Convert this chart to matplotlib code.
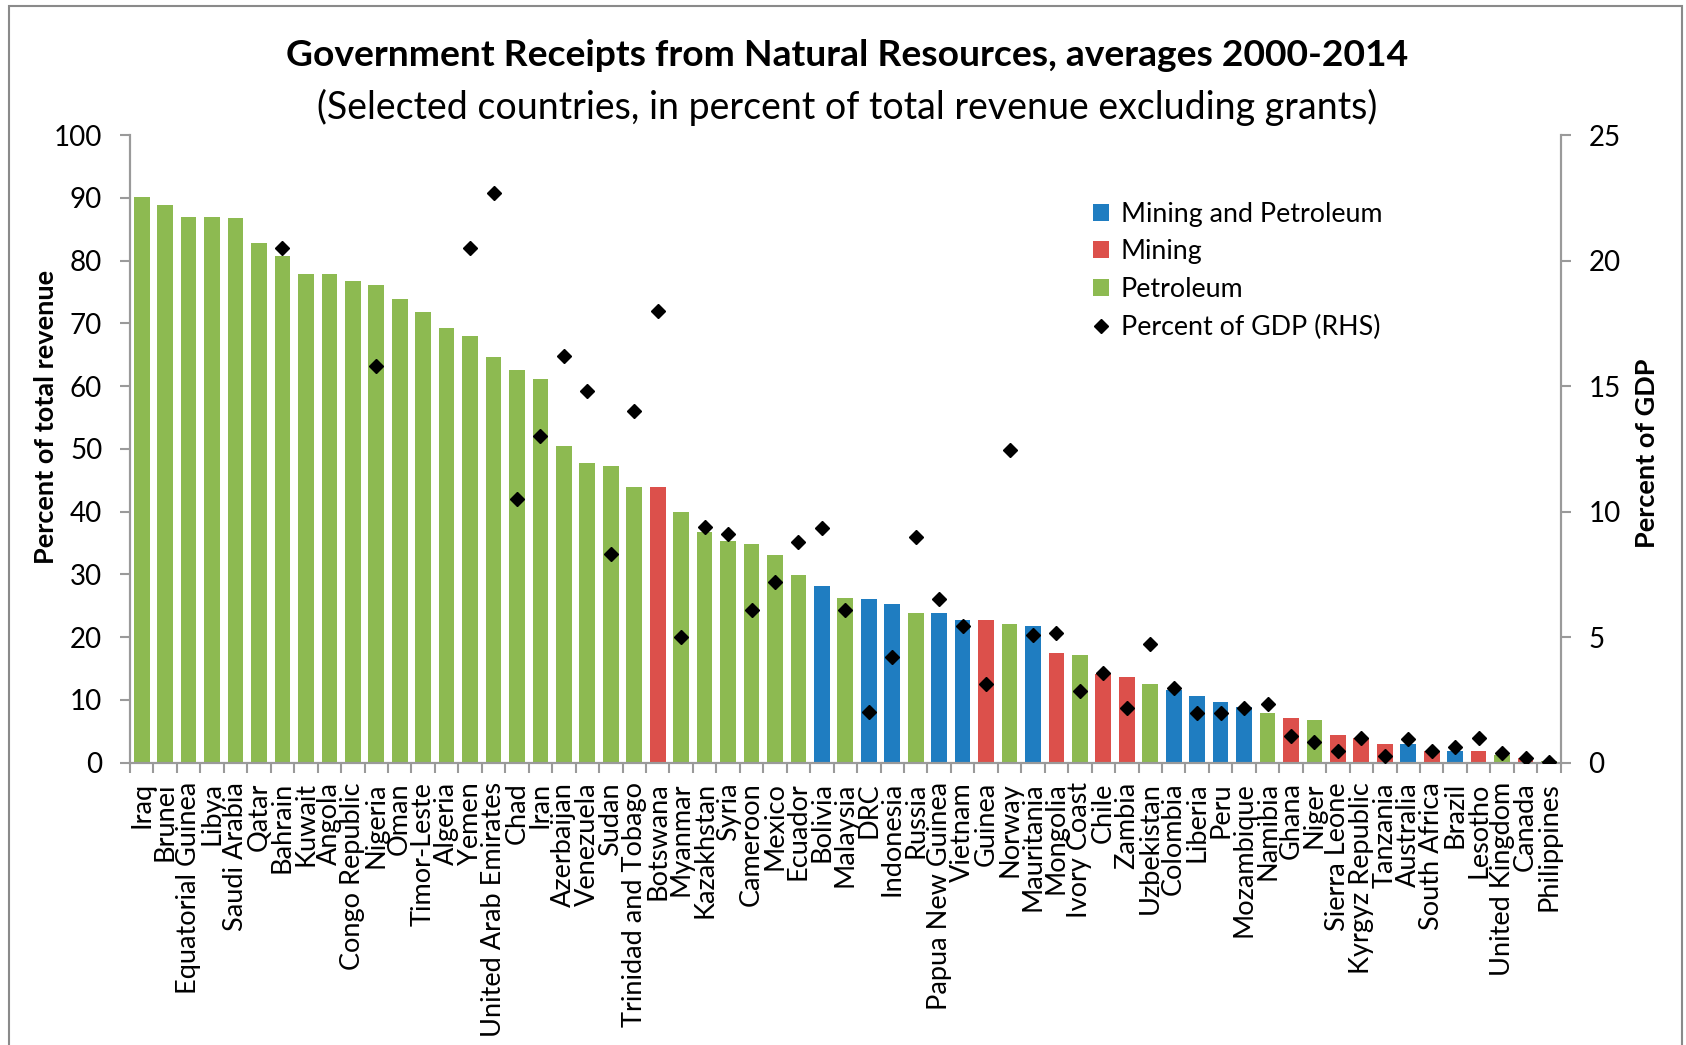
import numpy as np
import matplotlib
matplotlib.use("Agg")
import matplotlib.pyplot as plt
from matplotlib.lines import Line2D
from matplotlib.patches import Patch, Rectangle

plt.rcParams["font.family"] = ["Lato", "DejaVu Sans"]

countries = [
    "Iraq", "Brunei", "Equatorial Guinea", "Libya", "Saudi Arabia", "Qatar",
    "Bahrain", "Kuwait", "Angola", "Congo Republic", "Nigeria", "Oman",
    "Timor-Leste", "Algeria", "Yemen", "United Arab Emirates", "Chad", "Iran",
    "Azerbaijan", "Venezuela", "Sudan", "Trinidad and Tobago", "Botswana",
    "Myanmar", "Kazakhstan", "Syria", "Cameroon", "Mexico", "Ecuador",
    "Bolivia", "Malaysia", "DRC", "Indonesia", "Russia", "Papua New Guinea",
    "Vietnam", "Guinea", "Norway", "Mauritania", "Mongolia", "Ivory Coast",
    "Chile", "Zambia", "Uzbekistan", "Colombia", "Liberia", "Peru",
    "Mozambique", "Namibia", "Ghana", "Niger", "Sierra Leone",
    "Kyrgyz Republic", "Tanzania", "Australia", "South Africa", "Brazil",
    "Lesotho", "United Kingdom", "Canada", "Philippines",
]

# percent of total revenue excluding grants (LHS)
revenue_share = [
    90.2, 88.8, 87.0, 87.0, 86.7, 82.8,
    80.7, 77.8, 77.8, 76.7, 76.1, 73.9,
    71.8, 69.3, 67.9, 64.6, 62.6, 61.1,
    50.5, 47.7, 47.3, 44.0, 44.0,
    39.9, 36.7, 35.3, 34.8, 33.1, 29.9,
    28.1, 26.3, 26.0, 25.3, 23.9, 23.9,
    22.8, 22.8, 22.1, 21.8, 17.5, 17.1,
    14.2, 13.6, 12.5, 11.6, 10.7, 9.7,
    8.9, 7.9, 7.2, 6.8, 4.4,
    3.9, 2.9, 2.9, 1.8, 1.8,
    1.8, 1.3, 0.75, 0.2,
]

# resource type: P = petroleum, M = mining, MP = mining and petroleum
resource_type = [
    "P", "P", "P", "P", "P", "P",
    "P", "P", "P", "P", "P", "P",
    "P", "P", "P", "P", "P", "P",
    "P", "P", "P", "P", "M",
    "P", "P", "P", "P", "P", "P",
    "MP", "P", "MP", "MP", "P", "MP",
    "MP", "M", "P", "MP", "M", "P",
    "M", "M", "P", "MP", "MP", "MP",
    "MP", "P", "M", "P", "M",
    "M", "M", "MP", "M", "MP",
    "M", "P", "M", "P",
]

# percent of GDP (RHS), nan where no marker
gdp_share = [
    np.nan, np.nan, np.nan, np.nan, np.nan, np.nan,
    20.5, np.nan, np.nan, np.nan, 15.8, np.nan,
    np.nan, np.nan, 20.5, 22.7, 10.5, 13.0,
    16.2, 14.8, 8.3, 14.0, 18.0,
    5.0, 9.4, 9.1, 6.1, 7.2, 8.8,
    9.35, 6.1, 2.0, 4.2, 9.0, 6.5,
    5.45, 3.13, 12.45, 5.07, 5.18, 2.87,
    3.58, 2.17, 4.73, 2.96, 1.97, 1.97,
    2.17, 2.35, 1.08, 0.83, 0.45,
    1.0, 0.27, 0.93, 0.47, 0.64,
    1.0, 0.4, 0.18, 0.02,
]

colors = {"MP": "#1f7dc1", "M": "#dc504b", "P": "#8dba51"}
legend_names = {"MP": "Mining and Petroleum", "M": "Mining", "P": "Petroleum"}

W, H = 1686, 1045
fig = plt.figure(figsize=(W / 100, H / 100), dpi=100)
ax_left, ax_right, ax_top, ax_bottom = 130, 1560.7, 135, 762.7
ax = fig.add_axes([ax_left / W, 1 - ax_bottom / H,
                   (ax_right - ax_left) / W, (ax_bottom - ax_top) / H])

x = np.arange(len(countries))
ax.bar(x, revenue_share, width=0.67,
       color=[colors[t] for t in resource_type], zorder=2)

ax2 = ax.twinx()
ax2.plot(x, gdp_share, linestyle="none", marker="D", markersize=7.5,
         color="black", zorder=3)

axis_grey = "#9a9a9a"
ax.set_xlim(-0.5, len(countries) - 0.5)
ax.set_ylim(0, 100)
ax2.set_ylim(0, 25)
ax.set_yticks(np.arange(0, 101, 10))
ax2.set_yticks(np.arange(0, 26, 5))

for a in (ax, ax2):
    a.spines["top"].set_visible(False)
    for s in ("left", "right", "bottom"):
        a.spines[s].set_color(axis_grey)
        a.spines[s].set_linewidth(1.5)

ax.tick_params(axis="y", direction="out", length=7, width=1.5, color=axis_grey,
               labelsize=20, pad=13)
ax2.tick_params(axis="y", direction="out", length=7, width=1.5, color=axis_grey,
                labelsize=20, pad=13)

ax.set_xticks(x)
ax.set_xticklabels(countries, rotation=90, fontsize=19.5, ha="center", va="top")
ax.set_xticks(np.arange(-0.5, len(countries)), minor=True)
ax.tick_params(axis="x", which="major", length=0, pad=14)
ax.tick_params(axis="x", which="minor", length=7, width=1.5, color=axis_grey,
               direction="out")

fig.text(46 / W, 1 - 417 / H, "Percent of total revenue", rotation=90,
         ha="center", va="center", fontsize=19.5, fontweight="bold")
fig.text(1647 / W, 1 - 453 / H, "Percent of GDP", rotation=90,
         ha="center", va="center", fontsize=19.5, fontweight="bold")

fig.text(847 / W, 1 - 56 / H,
         "Government Receipts from Natural Resources, averages 2000-2014",
         ha="center", va="center", fontsize=26.8, fontweight="bold")
fig.text(847 / W, 1 - 107 / H,
         "(Selected countries, in percent of total revenue excluding grants)",
         ha="center", va="center", fontsize=27)

handles = [Patch(facecolor=colors[k], label=legend_names[k]) for k in ("MP", "M", "P")]
handles.append(Line2D([], [], linestyle="none", marker="D", markersize=7,
                      color="black", label="Percent of GDP (RHS)"))
fig.legend(handles=handles, loc="upper left",
           bbox_to_anchor=(1082 / W, 1 - 191 / H), frameon=False,
           fontsize=19.3, handlelength=0.6, handleheight=0.6,
           handletextpad=0.45, labelspacing=0.47, borderaxespad=0)

fig.patches.append(Rectangle((9 / W, -0.1), (1682 - 9) / W, 1.1 - 6 / H,
                             transform=fig.transFigure, fill=False,
                             edgecolor="#8a8a8a", linewidth=1.5))

fig.savefig("out.png", dpi=100)
